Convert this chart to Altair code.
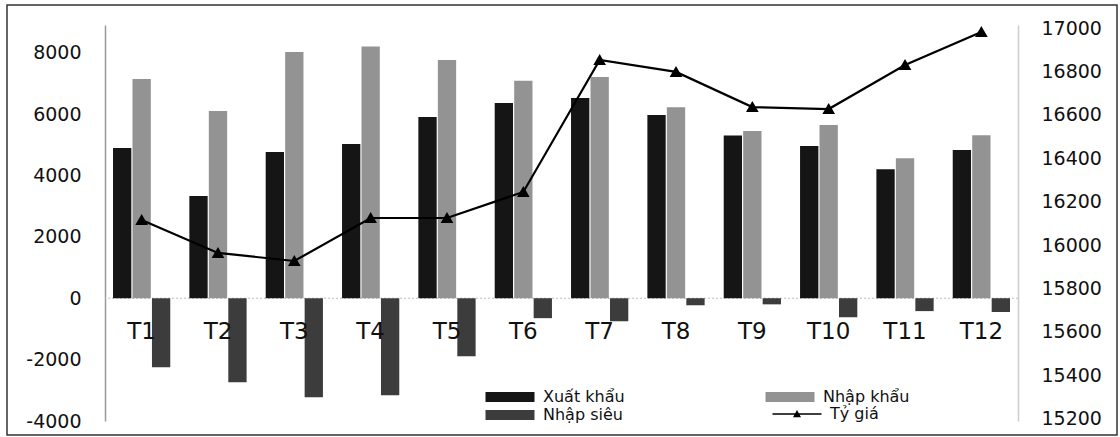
import altair as alt
import pandas as pd

months = ["T1", "T2", "T3", "T4", "T5", "T6", "T7", "T8", "T9", "T10", "T11", "T12"]
xuat_khau = [4890, 3330, 4760, 5020, 5900, 6360, 6520, 5970, 5300, 4960, 4200, 4830]
nhap_khau = [7140, 6100, 8020, 8200, 7760, 7080, 7210, 6220, 5450, 5640, 4560, 5310]
nhap_sieu = [-2250, -2740, -3230, -3160, -1890, -650, -750, -230, -200, -620, -420, -450]
ty_gia = [16116, 15964, 15927, 16125, 16125, 16245, 16853, 16798, 16636, 16627, 16830, 16982]

bar_names = ["Xuất khẩu", "Nhập khẩu", "Nhập siêu"]
bar_colors = ["#151515", "#939393", "#3c3c3c"]
legend_order = ["Xuất khẩu", "Nhập siêu", "Nhập khẩu"]
line_name = "Tỷ giá"
left_ticks = [-4000, -2000, 0, 2000, 4000, 6000, 8000]
right_ticks = [15200, 15400, 15600, 15800, 16000, 16200, 16400, 16600, 16800, 17000]

bar_rows = []
for name, vals in zip(bar_names, [xuat_khau, nhap_khau, nhap_sieu]):
    for m, v in zip(months, vals):
        bar_rows.append({"month": m, "series": name, "value": v})
bar_df = pd.DataFrame(bar_rows)
line_df = pd.DataFrame({"month": months, "rate": ty_gia, "series": line_name})

FONT = "DejaVu Sans"

x_enc = alt.X(
    "month:N", sort=months,
    scale=alt.Scale(paddingInner=0.25, paddingOuter=0.105),
    axis=alt.Axis(title=None, orient="bottom", offset=-101, domain=False, ticks=False,
                  labelAngle=0, labelFontSize=23, labelFont=FONT, labelColor="#111",
                  labelPadding=0, zindex=1, grid=False),
)

left_scale = alt.Scale(domain=[-4000, 8900], nice=False, zero=False)
left_axis = alt.Axis(title=None, values=left_ticks, ticks=False, grid=False, labelPadding=24,
                     labelExpr="datum.value + ''",
                     labelFont=FONT, labelFontSize=19, labelColor="#111",
                     domainColor="#999999", domainWidth=1.5)

bars = alt.Chart(bar_df).mark_bar().encode(
    x=x_enc,
    xOffset=alt.XOffset("series:N", sort=bar_names, scale=alt.Scale(paddingInner=0.06)),
    y=alt.Y("value:Q", scale=left_scale, axis=left_axis),
    color=alt.Color(
        "series:N",
        scale=alt.Scale(domain=bar_names, range=bar_colors),
        legend=alt.Legend(
            title=None, orient="none", legendX=395, legendY=362, columns=2,
            values=legend_order,
            columnPadding=140, rowPadding=-3, symbolSize=400, labelOffset=23,
            symbolType="M-2.45,-0.5H2.45V0.5H-2.45Z",
            labelFont=FONT, labelFontSize=16, labelColor="#111", symbolStrokeWidth=0,
        ),
    ),
)

zero_rule = alt.Chart(pd.DataFrame({"v": [0]})).mark_rule(
    color="#bbbbbb", strokeDash=[2, 2], strokeWidth=1
).encode(y=alt.Y("v:Q", scale=left_scale, axis=left_axis))

left_layer = alt.layer(zero_rule, bars)

line = alt.Chart(line_df).mark_line(
    strokeWidth=2.2, color="#000000",
    point=alt.OverlayMarkDef(shape="triangle-up", filled=True, size=85, color="#000000"),
).encode(
    x=x_enc,
    y=alt.Y("rate:Q",
            scale=alt.Scale(domain=[15190, 17014], nice=False, zero=False),
            axis=alt.Axis(title=None, orient="right", values=right_ticks, format="d",
                          ticks=False, grid=False,
                          labelPadding=23, labelFont=FONT, labelFontSize=19, labelColor="#111",
                          domainColor="#cccccc", domainWidth=1.5)),
    stroke=alt.Stroke(
        "series:N",
        scale=alt.Scale(domain=[line_name], range=["#000000"]),
        legend=alt.Legend(
            title=None, orient="none", legendX=682, legendY=379,
            symbolSize=400, labelOffset=23,
            symbolType="M-2.45,-0.08H2.45V0.08H-2.45Z M-0.4,0.32L0,-0.4L0.4,0.32Z",
            symbolFillColor="#000000", symbolStrokeColor="#000000", symbolStrokeWidth=0,
            labelFont=FONT, labelFontSize=16, labelColor="#111",
        ),
    ),
)

frame = alt.Chart(pd.DataFrame({"a": [0]})).mark_rect(
    fill=None, stroke="#333333", strokeWidth=1.5
).encode(x=alt.value(-98), x2=alt.value(1012), y=alt.value(-20), y2=alt.value(410))

chart = alt.layer(left_layer, line, frame).resolve_scale(y="independent").properties(
    width=913, height=396,
    autosize=alt.AutoSizeParams(type="none"),
    padding={"left": 105, "top": 25, "right": 102, "bottom": 16},
    background="white",
).configure_view(stroke=None)

chart.save("out.html", embed_options={"renderer": "svg", "actions": False})
